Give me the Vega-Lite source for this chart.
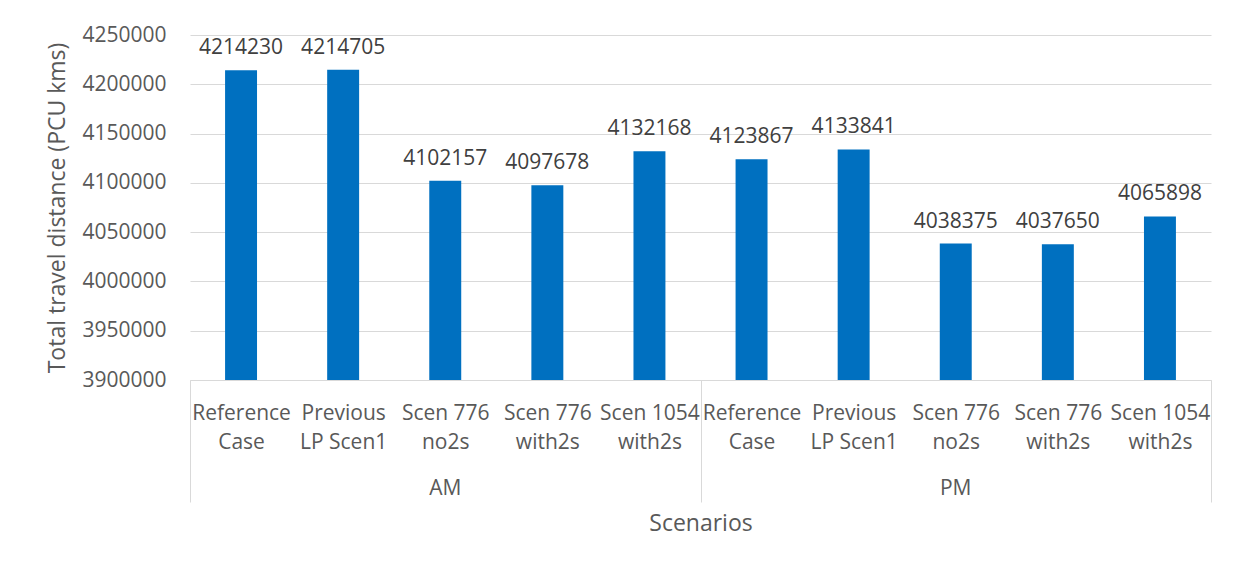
{
  "$schema": "https://vega.github.io/schema/vega-lite/v6.json",
  "width": 1021,
  "height": 345,
  "autosize": {"type": "none"},
  "padding": {"left": 190, "top": 35, "right": 29, "bottom": 188},
  "background": "white",
  "config": {"view": {"stroke": null}, "font": "Open Sans"},
  "data": {
    "values": [
      {"period": "AM", "scenario": "Reference Case", "key": "AM Reference Case", "distance": 4214230},
      {"period": "AM", "scenario": "Previous LP Scen1", "key": "AM Previous LP Scen1", "distance": 4214705},
      {"period": "AM", "scenario": "Scen 776 no2s", "key": "AM Scen 776 no2s", "distance": 4102157},
      {"period": "AM", "scenario": "Scen 776 with2s", "key": "AM Scen 776 with2s", "distance": 4097678},
      {"period": "AM", "scenario": "Scen 1054 with2s", "key": "AM Scen 1054 with2s", "distance": 4132168},
      {"period": "PM", "scenario": "Reference Case", "key": "PM Reference Case", "distance": 4123867},
      {"period": "PM", "scenario": "Previous LP Scen1", "key": "PM Previous LP Scen1", "distance": 4133841},
      {"period": "PM", "scenario": "Scen 776 no2s", "key": "PM Scen 776 no2s", "distance": 4038375},
      {"period": "PM", "scenario": "Scen 776 with2s", "key": "PM Scen 776 with2s", "distance": 4037650},
      {"period": "PM", "scenario": "Scen 1054 with2s", "key": "PM Scen 1054 with2s", "distance": 4065898}
    ]
  },
  "layer": [
    {
      "mark": {"type": "bar", "color": "#0070C0", "clip": true, "width": {"band": 0.313}},
      "encoding": {
        "x": {
          "field": "key",
          "type": "nominal",
          "sort": null,
          "scale": {"paddingInner": 0, "paddingOuter": 0},
          "axis": {
            "orient": "bottom",
            "title": null,
            "grid": false,
            "domain": true,
            "domainColor": "#D9D9D9",
            "domainWidth": 1,
            "ticks": true,
            "tickBand": "extent",
            "tickSize": 122,
            "tickColor": "#D9D9D9",
            "tickWidth": 1,
            "tickOpacity": {"condition": {"test": "datum.extra || indexof(datum.value, '1054') >= 0", "value": 1}, "value": 0},
            "labelExpr": "indexof(substring(datum.label,3),'Scen ')==0 ? [substring(datum.label,3,lastindexof(datum.label,' ')), substring(datum.label,lastindexof(datum.label,' ')+1)] : [substring(datum.label,3,indexof(substring(datum.label,3),' ')+3), substring(datum.label,indexof(substring(datum.label,3),' ')+4)]",
            "labelAngle": 0,
            "labelFont": "Open Sans",
            "labelFontSize": 21,
            "labelColor": "#595959",
            "labelLineHeight": 29.5,
            "labelPadding": -100,
            "labelOverlap": false,
            "labelLimit": 0
          }
        },
        "y": {
          "field": "distance",
          "type": "quantitative",
          "scale": {"domain": [3900000, 4250000], "zero": false, "nice": false},
          "axis": {
            "values": [3900000, 3950000, 4000000, 4050000, 4100000, 4150000, 4200000, 4250000],
            "format": "d",
            "grid": true,
            "gridColor": "#D9D9D9",
            "gridWidth": 1,
            "domain": false,
            "ticks": false,
            "labelPadding": 24,
            "labelFont": "Open Sans",
            "labelFontSize": 21,
            "labelColor": "#595959",
            "title": "Total travel distance (PCU kms)",
            "titleFont": "Open Sans",
            "titleFontSize": 23,
            "titleFontWeight": "normal",
            "titleColor": "#595959",
            "titlePadding": 12
          }
        }
      }
    },
    {
      "mark": {"type": "text", "font": "Open Sans", "fontSize": 21, "color": "#404040", "baseline": "alphabetic", "dy": -16},
      "encoding": {
        "x": {
          "field": "key",
          "type": "nominal",
          "sort": null,
          "axis": {
            "orient": "bottom",
            "title": "Scenarios",
            "titleFont": "Open Sans",
            "titleFontSize": 23,
            "titleFontWeight": "normal",
            "titleColor": "#595959",
            "titlePadding": 14,
            "grid": false,
            "domain": false,
            "ticks": false,
            "labelExpr": "indexof(datum.label,'no2s') >= 0 ? substring(datum.label,0,2) : ''",
            "labelAngle": 0,
            "labelFont": "Open Sans",
            "labelFontSize": 21,
            "labelColor": "#595959",
            "labelPadding": 97,
            "labelOverlap": false
          }
        },
        "y": {
          "field": "distance",
          "type": "quantitative",
          "scale": {"domain": [3900000, 4250000], "zero": false, "nice": false}
        },
        "text": {"field": "distance", "type": "quantitative", "format": "d"}
      }
    }
  ],
  "resolve": {"axis": {"x": "independent"}}
}
